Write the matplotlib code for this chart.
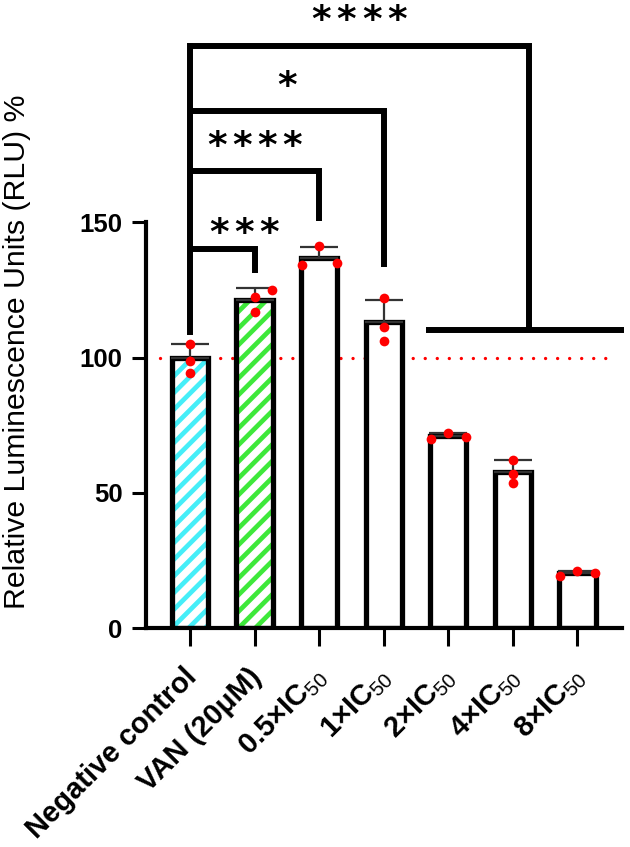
import matplotlib
matplotlib.use("Agg")
import matplotlib.pyplot as plt
import matplotlib.transforms as mtransforms
import numpy as np

plt.rcParams['font.family'] = ['Liberation Sans', 'DejaVu Sans']
plt.rcParams['mathtext.fontset'] = 'custom'
plt.rcParams['mathtext.rm'] = 'Liberation Sans'
plt.rcParams['hatch.linewidth'] = 3.4

# ' Data
groups = ['Negative control', 'VAN (20μM)', '0.5×IC$_{\\mathrm{50}}$',
          '1×IC$_{\\mathrm{50}}$', '2×IC$_{\\mathrm{50}}$',
          '4×IC$_{\\mathrm{50}}$', '8×IC$_{\\mathrm{50}}$']
means = [100, 121.5, 137, 113.3, 71, 57.6, 20.3]
sds = [5.1, 4.3, 4.0, 8.0, 1.1, 4.6, 0.8]
replicates = [
    [105.1, 98.8, 94.4],
    [125.0, 122.5, 116.9],
    [141.3, 135.0, 134.3],
    [122.1, 111.4, 106.2],
    [69.9, 72.1, 70.7],
    [62.2, 57.0, 53.6],
    [19.2, 21.1, 20.3],
]
reference_level = 100
y_ticks = [0, 50, 100, 150]
y_label = 'Relative Luminescence Units (RLU) %'

# ' Layout / style
WIDTH, HEIGHT, DPI = 6.3, 8.47, 100
BAR_WIDTH = 0.56
EDGE_LW = 3.8
JITTER = 0.27
# horizontal spread of the replicate dots (-1 left, 0 centre, 1 right)
jitter_slots = [[0, 0, 0], [1, 0, 0], [0, 1, -1], [0, 0, 0],
                [-1, 0, 1], [0, 0, 0], [-1, 0, 1]]
hatch_colors = ['#45EEF8', '#3EE83A', None, None, None, None, None]

# significance brackets: stars, right end x, bar height, drop-to y, star x, star y
brackets = [
    ('***', 1, 140.2, 131.5, 0.84, 145.7),
    ('****', 2, 169.1, 150.7, 1.0, 177.8),
    ('*', 3, 191.2, 133.7, 1.5, 200.0),
    ('****', 5.25, 215.3, 110.4, 2.62, 224.5),
]
BRACKET_LW = 4.3
STAR_GAP = 0.39
STAR_SIZE = 27

fig = plt.figure(figsize=(WIDTH, HEIGHT), dpi=DPI)
ax = fig.add_axes([146 / 630, (847 - 628) / 847, 476 / 630, 628 / 847])

x = np.arange(len(groups))

# dotted reference line (behind bars)
ax.plot([-0.46, 6.49], [reference_level, reference_level], color='red',
        lw=2.4, linestyle=(0, (0.01, 3.6)), dash_capstyle='round', zorder=1)

# bars: hatch layer then black outline
for i, m in enumerate(means):
    if hatch_colors[i] is not None:
        ax.bar(x[i], m, width=BAR_WIDTH, color='white', edgecolor=hatch_colors[i],
               hatch='//', linewidth=0, zorder=2)
    else:
        ax.bar(x[i], m, width=BAR_WIDTH, color='white', linewidth=0, zorder=2)
ax.bar(x, means, width=BAR_WIDTH, facecolor='none', edgecolor='black',
       linewidth=EDGE_LW, zorder=3)

# error bars (upper only)
ax.errorbar(x, means, yerr=[np.zeros(len(sds)), sds], fmt='none',
            ecolor='#333333', elinewidth=1.6, capsize=14, capthick=1.6, zorder=4)

# replicate dots
for i, reps in enumerate(replicates):
    xs = x[i] + np.array(jitter_slots[i]) * JITTER
    ax.plot(xs, reps, 'o', color='red', markersize=7, markeredgewidth=0,
            zorder=5, clip_on=False)


def draw_stars(xc, y, label):
    n = len(label)
    offsets = (np.arange(n) - (n - 1) / 2) * STAR_GAP
    for off in offsets:
        ax.text(xc + off, y, '*', ha='center', va='center', fontsize=STAR_SIZE,
                fontweight='bold', family='DejaVu Sans', clip_on=False)


# significance brackets
left_bottom = 109.6
top_y = max(b[2] for b in brackets)
ax.plot([0, 0], [left_bottom, top_y], color='black', lw=BRACKET_LW,
        solid_capstyle='projecting', clip_on=False, zorder=6)
for stars, xr, yb, ydrop, sx, sy in brackets:
    ax.plot([0, xr, xr], [yb, yb, ydrop], color='black', lw=BRACKET_LW,
            solid_capstyle='butt', solid_joinstyle='miter', clip_on=False, zorder=6)
    draw_stars(sx, sy, stars)
# group bracket across the high-dose columns
ax.plot([3.65, 6.72], [110.4, 110.4], color='black', lw=BRACKET_LW,
        solid_capstyle='butt', clip_on=False, zorder=6)

# axes styling
ax.set_xlim(-0.68, 6.69)
ax.set_ylim(0, 232.3)
for side in ['top', 'right']:
    ax.spines[side].set_visible(False)
ax.spines['left'].set_bounds(0, 150)
ax.spines['left'].set_linewidth(3)
ax.spines['bottom'].set_linewidth(3)
ax.set_yticks(y_ticks)
ax.set_yticklabels([str(t) for t in y_ticks], fontsize=18.5, fontweight='bold')
ax.tick_params(axis='y', length=10, width=2.2, pad=7)
ax.set_xticks(x)
ax.set_xticklabels(groups, rotation=45, ha='right', va='top',
                   rotation_mode='anchor', fontsize=21, fontweight='bold')
ax.tick_params(axis='x', length=13, width=2.2, pad=12)
shift = mtransforms.ScaledTranslation(-7 / DPI, 0, fig.dpi_scale_trans)
for lab in ax.get_xticklabels():
    lab.set_transform(lab.get_transform() + shift)
ax.set_ylabel(y_label, fontsize=21.8, va='center')
ax.yaxis.set_label_coords(-0.272, 0.44)

fig.savefig('out.png', dpi=DPI)
